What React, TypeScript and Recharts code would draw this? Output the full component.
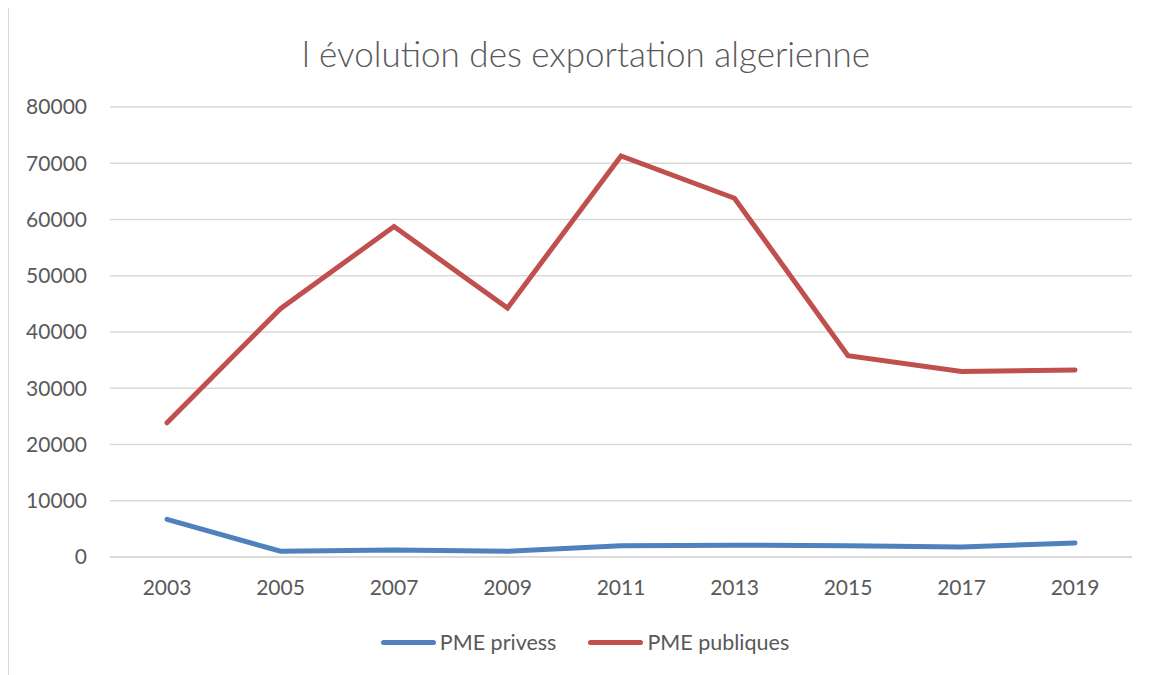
import React from 'react';
import { LineChart, Line, XAxis, YAxis, CartesianGrid, Legend } from 'recharts';

const years = ['2003', '2005', '2007', '2009', '2011', '2013', '2015', '2017', '2019'];
const pmePrivess = [6700, 1020, 1260, 1020, 1980, 2100, 1980, 1800, 2500];
const pmePubliques = [23860, 44150, 58750, 44270, 71300, 63780, 35800, 32960, 33260];
const yTicks = [0, 10000, 20000, 30000, 40000, 50000, 60000, 70000, 80000];

const BLUE = '#4f81bd';
const RED = '#c0504d';
const TEXT = '#595959';
const FONT = 'Lato, "Open Sans", sans-serif';

const data = years.map((year, i) => ({
  year,
  privess: pmePrivess[i],
  publiques: pmePubliques[i],
}));

const LegendBox = () => (
  <div
    style={{
      display: 'flex',
      justifyContent: 'center',
      alignItems: 'center',
      height: 30,
      paddingLeft: 8,
      fontFamily: FONT,
      fontSize: 21.5,
      color: TEXT,
    }}
  >
    {[
      { label: 'PME privess', color: BLUE },
      { label: 'PME publiques', color: RED },
    ].map((item, i) => (
      <div key={item.label} style={{ display: 'flex', alignItems: 'center', marginLeft: i ? 32 : 0 }}>
        <span
          style={{
            display: 'inline-block',
            width: 55,
            height: 5,
            borderRadius: 3,
            background: item.color,
            marginRight: 4,
          }}
        />
        <span>{item.label}</span>
      </div>
    ))}
  </div>
);

const App = () => {
  return (
    <div style={{ position: 'relative', width: 1143, height: 667 }}>
      <div
        style={{
          position: 'absolute',
          left: 0,
          top: -1,
          width: 1143,
          height: 668,
          borderLeft: '1px solid #d9d9d9',
          borderTop: '1px solid #d9d9d9',
          boxSizing: 'border-box',
        }}
      />
      <div
        style={{
          position: 'absolute',
          left: 0,
          top: 24,
          width: 1156,
          textAlign: 'center',
          fontFamily: FONT,
          fontSize: 35,
          fontWeight: 300,
          color: TEXT,
        }}
      >
        l évolution des exportation algerienne
      </div>
      <LineChart
        width={1143}
        height={667}
        data={data}
        margin={{ top: 99, right: 19, bottom: 18, left: 22 }}
        style={{ fontFamily: FONT }}
      >
        <CartesianGrid vertical={false} stroke="#d9d9d9" strokeWidth={1.5} />
        <XAxis
          dataKey="year"
          padding={{ left: 57, right: 57 }}
          height={70}
          axisLine={{ stroke: '#d9d9d9', strokeWidth: 1.5 }}
          tickLine={false}
          tickMargin={17}
          tick={{ fill: TEXT, fontSize: 21 }}
        />
        <YAxis
          width={80}
          domain={[0, 80000]}
          ticks={yTicks}
          axisLine={false}
          tickLine={false}
          tickMargin={17}
          tick={{ fill: TEXT, fontSize: 21 }}
        />
        <Legend verticalAlign="bottom" content={() => <LegendBox />} />
        <Line
          type="linear"
          dataKey="privess"
          name="PME privess"
          stroke={BLUE}
          strokeWidth={5}
          strokeLinecap="round"
          dot={false}
          activeDot={false}
          isAnimationActive={false}
        />
        <Line
          type="linear"
          dataKey="publiques"
          name="PME publiques"
          stroke={RED}
          strokeWidth={5}
          strokeLinecap="round"
          dot={false}
          activeDot={false}
          isAnimationActive={false}
        />
      </LineChart>
    </div>
  );
};

export default App;
